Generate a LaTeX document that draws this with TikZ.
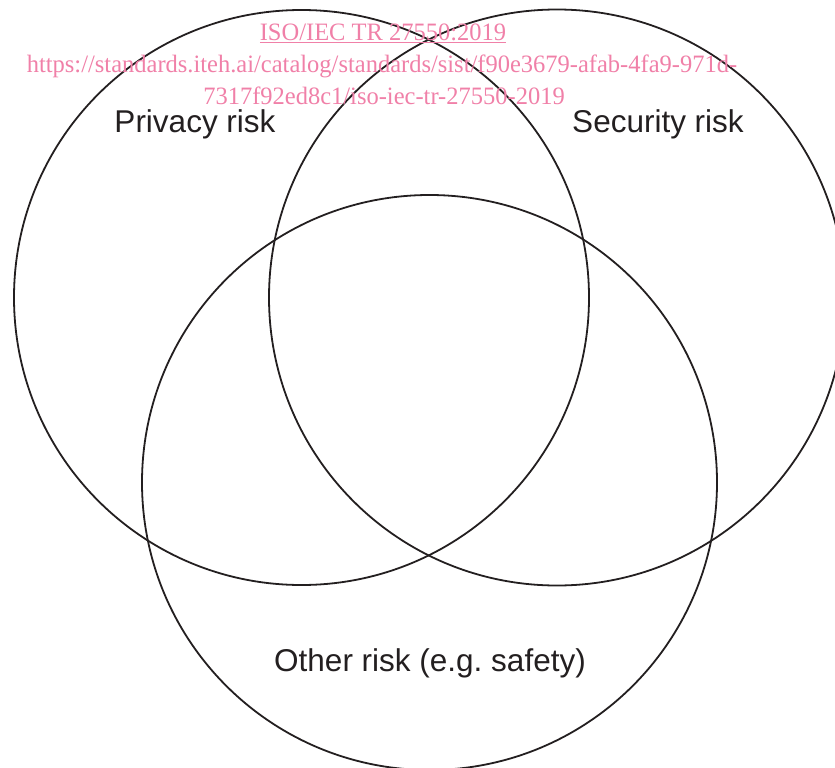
\documentclass[tikz,border=0pt]{standalone}
\usepackage{fontspec}
\setmainfont{Liberation Sans}
\newfontfamily\wmfont[FakeStretch=0.98]{Liberation Serif}
\definecolor{wmpink}{RGB}{240,128,168}
\definecolor{ink}{RGB}{35,31,32}
\begin{document}
\begin{tikzpicture}[x=1pt,y=-1pt,
  ring/.style={draw=ink,line width=1.8pt},
  lbl/.style={text=ink,font=\fontsize{31.5}{36}\selectfont,inner sep=0pt,anchor=center},
  wm/.style={text=wmpink,font=\wmfont\fontsize{25}{28}\selectfont,inner sep=0pt,anchor=center}]
\useasboundingbox (0,0) rectangle (835,768);
\begin{scope}
\clip (0,0) rectangle (835,768);
\draw[ring] (301.5,297.5) circle[radius=287.5];
\draw[ring] (557,297.5) circle[radius=288];
\draw[ring] (429.5,482.5) circle[radius=287.5];
\end{scope}
\node[lbl] (privacy) at (195,124) {Privacy risk};
\node[lbl] (security) at (658,124) {Security risk};
\node[lbl] (other) at (430,663) {Other risk (e.g.\ safety)};
\node[wm] (wm1) at (383,33) {\underline{ISO/IEC TR 27550:2019}};
\node[wm] (wm2) at (382,66) {https://standards.iteh.ai/catalog/standards/sist/f90e3679-afab-4fa9-971d-};
\node[wm] (wm3) at (384,96) {7317f92ed8c1/iso-iec-tr-27550-2019};
\end{tikzpicture}
\end{document}
